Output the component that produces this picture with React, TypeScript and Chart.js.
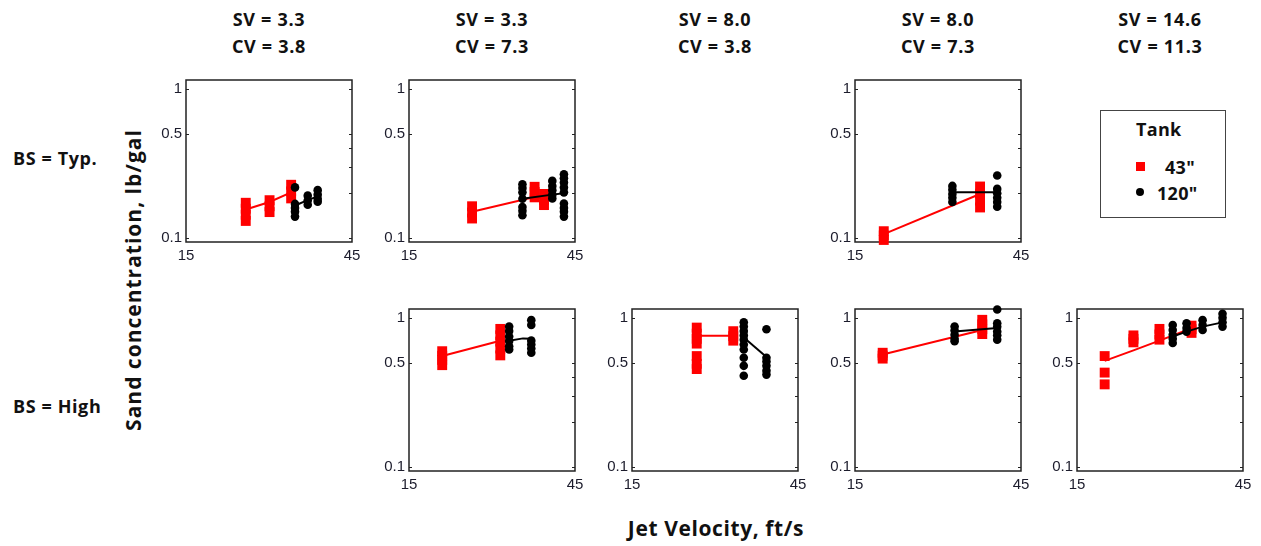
import React, { useEffect, useRef } from "react";
import { Chart, registerables } from "chart.js";

Chart.register(...registerables);

type Pt = [number, number];

// ---------- text / axes ----------
const svTitles = ["SV = 3.3", "SV = 3.3", "SV = 8.0", "SV = 8.0", "SV = 14.6"];
const cvTitles = ["CV = 3.8", "CV = 7.3", "CV = 3.8", "CV = 7.3", "CV = 11.3"];
const rowLabels = ["BS = Typ.", "BS = High"];
const xTickValues = [15, 45];
const yTickValues = [0.1, 0.5, 1];
const yMinorTickValues = [0.2, 0.3, 0.4];
const legendTitle = "Tank";
const legendLabels = ['43"', '120"'];
const yAxisTitle = "Sand concentration, lb/gal";
const xAxisTitle = "Jet Velocity, ft/s";

// ---------- data: BS = Typ. ----------
const typ_sv33_cv38_red: Pt[] = [
  [25.8, 0.13], [25.8, 0.143], [25.8, 0.157], [25.8, 0.172],
  [30.1, 0.149], [30.1, 0.163], [30.1, 0.179],
  [34.0, 0.184], [34.0, 0.205], [34.0, 0.227],
];
const typ_sv33_cv38_redLine: Pt[] = [[25.8, 0.155], [30.1, 0.174], [34.0, 0.202]];
const typ_sv33_cv38_black: Pt[] = [
  [34.7, 0.218], [34.7, 0.169], [34.7, 0.159], [34.7, 0.15], [34.7, 0.139],
  [37.0, 0.192], [37.0, 0.178], [37.0, 0.167],
  [38.8, 0.209], [38.8, 0.195], [38.8, 0.183], [38.8, 0.175],
];
const typ_sv33_cv38_blackLine: Pt[] = [[34.7, 0.165], [37.0, 0.179], [38.8, 0.19]];

const typ_sv33_cv73_red: Pt[] = [
  [26.4, 0.135], [26.4, 0.148], [26.4, 0.163],
  [37.7, 0.187], [37.7, 0.203], [37.7, 0.22],
  [39.4, 0.166], [39.4, 0.18], [39.4, 0.197],
];
const typ_sv33_cv73_redLine: Pt[] = [[26.4, 0.15], [37.7, 0.188], [39.4, 0.185]];
const typ_sv33_cv73_black: Pt[] = [
  [35.5, 0.229], [35.5, 0.216], [35.5, 0.202], [35.5, 0.183], [35.5, 0.161], [35.5, 0.152], [35.5, 0.142],
  [40.9, 0.241], [40.9, 0.223], [40.9, 0.209], [40.9, 0.195], [40.9, 0.184],
  [43.0, 0.267], [43.0, 0.251], [43.0, 0.235], [43.0, 0.218], [43.0, 0.202], [43.0, 0.17], [43.0, 0.159], [43.0, 0.15], [43.0, 0.139],
];
const typ_sv33_cv73_blackLine: Pt[] = [[35.5, 0.183], [40.9, 0.195], [43.0, 0.199]];

const typ_sv80_cv73_red: Pt[] = [
  [20.2, 0.097], [20.2, 0.104], [20.2, 0.111],
  [37.6, 0.16], [37.6, 0.178], [37.6, 0.198], [37.6, 0.221],
];
const typ_sv80_cv73_redLine: Pt[] = [[20.2, 0.106], [37.6, 0.197]];
const typ_sv80_cv73_black: Pt[] = [
  [32.6, 0.223], [32.6, 0.21], [32.6, 0.197], [32.6, 0.186], [32.6, 0.174],
  [40.7, 0.262], [40.7, 0.213], [40.7, 0.199], [40.7, 0.186], [40.7, 0.174], [40.7, 0.162],
];
const typ_sv80_cv73_blackLine: Pt[] = [[32.6, 0.202], [40.7, 0.202]];

// ---------- data: BS = High ----------
const high_sv33_cv73_red: Pt[] = [
  [21.0, 0.48], [21.0, 0.52], [21.0, 0.555], [21.0, 0.595],
  [31.5, 0.558], [31.5, 0.62], [31.5, 0.69], [31.5, 0.76], [31.5, 0.839],
];
const high_sv33_cv73_redLine: Pt[] = [[21.0, 0.552], [31.5, 0.7]];
const high_sv33_cv73_black: Pt[] = [
  [33.1, 0.869], [33.1, 0.811], [33.1, 0.746], [33.1, 0.697], [33.1, 0.643], [33.1, 0.611],
  [37.1, 0.96], [37.1, 0.891], [37.1, 0.7], [37.1, 0.659], [37.1, 0.62], [37.1, 0.581],
];
const high_sv33_cv73_blackLine: Pt[] = [[33.1, 0.7], [35.6, 0.725], [37.1, 0.72]];

const high_sv80_cv38_red: Pt[] = [
  [26.7, 0.669], [26.7, 0.72], [26.7, 0.78], [26.7, 0.856],
  [26.7, 0.452], [26.7, 0.49], [26.7, 0.552],
  [33.3, 0.7], [33.3, 0.75], [33.3, 0.81],
];
const high_sv80_cv38_redLine: Pt[] = [[26.7, 0.755], [33.3, 0.755]];
const high_sv80_cv38_black: Pt[] = [
  [35.2, 0.928], [35.2, 0.869], [35.2, 0.811], [35.2, 0.759], [35.2, 0.711], [35.2, 0.659], [35.2, 0.611], [35.2, 0.538], [35.2, 0.475], [35.2, 0.408],
  [39.3, 0.835], [39.3, 0.538], [39.3, 0.507], [39.3, 0.475], [39.3, 0.441], [39.3, 0.415],
];
const high_sv80_cv38_blackLine: Pt[] = [[35.2, 0.736], [39.3, 0.544]];

const high_sv80_cv73_red: Pt[] = [
  [20.0, 0.531], [20.0, 0.556], [20.0, 0.581],
  [38.0, 0.775], [38.0, 0.835], [38.0, 0.9], [38.0, 0.965],
];
const high_sv80_cv73_redLine: Pt[] = [[20.0, 0.566], [38.0, 0.826]];
const high_sv80_cv73_black: Pt[] = [
  [33.0, 0.869], [33.0, 0.818], [33.0, 0.766], [33.0, 0.721], [33.0, 0.693],
  [40.7, 1.13], [40.7, 0.914], [40.7, 0.866], [40.7, 0.805], [40.7, 0.76], [40.7, 0.711],
];
const high_sv80_cv73_blackLine: Pt[] = [[33.0, 0.805], [40.7, 0.85]];

const high_sv146_cv113_red: Pt[] = [
  [20.0, 0.552], [20.0, 0.428], [20.0, 0.357],
  [25.2, 0.682], [25.2, 0.72], [25.2, 0.759],
  [29.9, 0.711], [29.9, 0.77], [29.9, 0.839],
  [35.7, 0.789], [35.7, 0.835], [35.7, 0.882],
];
const high_sv146_cv113_redLine: Pt[] = [[20.0, 0.513], [25.2, 0.603], [29.9, 0.7], [35.7, 0.847]];
const high_sv146_cv113_black: Pt[] = [
  [32.3, 0.891], [32.3, 0.826], [32.3, 0.766], [32.3, 0.721], [32.3, 0.676],
  [34.8, 0.914], [34.8, 0.85], [34.8, 0.805],
  [37.7, 0.96], [37.7, 0.891], [37.7, 0.826],
  [41.3, 1.06], [41.3, 0.995], [41.3, 0.928], [41.3, 0.869],
];
const high_sv146_cv113_blackLine: Pt[] = [[32.3, 0.746], [34.8, 0.805], [37.7, 0.869], [41.3, 0.928]];

// ---------- layout ----------
const COL_LEFT = [186, 409, 632, 855, 1077];
const ROW_TOP = [77, 306];
const BOX_W = 166;
const BOX_H = 165;
const Y_AXIS_W = 45;
const X_AXIS_H = 28;
const PAD_TOP = 10;
const PAD_RIGHT = 14;
const X_MIN = 15, X_MAX = 45, Y_MIN = 0.094, Y_MAX = 1.14;
const RED = "#ff0000";
const BLACK = "#000000";
const TEXT_FONT = "'Open Sans', 'DejaVu Sans', sans-serif";

interface PanelSpec {
  row: number;
  col: number;
  red: Pt[];
  redLine: Pt[];
  black: Pt[];
  blackLine: Pt[];
}

const panels: PanelSpec[] = [
  { row: 0, col: 0, red: typ_sv33_cv38_red, redLine: typ_sv33_cv38_redLine, black: typ_sv33_cv38_black, blackLine: typ_sv33_cv38_blackLine },
  { row: 0, col: 1, red: typ_sv33_cv73_red, redLine: typ_sv33_cv73_redLine, black: typ_sv33_cv73_black, blackLine: typ_sv33_cv73_blackLine },
  { row: 0, col: 3, red: typ_sv80_cv73_red, redLine: typ_sv80_cv73_redLine, black: typ_sv80_cv73_black, blackLine: typ_sv80_cv73_blackLine },
  { row: 1, col: 1, red: high_sv33_cv73_red, redLine: high_sv33_cv73_redLine, black: high_sv33_cv73_black, blackLine: high_sv33_cv73_blackLine },
  { row: 1, col: 2, red: high_sv80_cv38_red, redLine: high_sv80_cv38_redLine, black: high_sv80_cv38_black, blackLine: high_sv80_cv38_blackLine },
  { row: 1, col: 3, red: high_sv80_cv73_red, redLine: high_sv80_cv73_redLine, black: high_sv80_cv73_black, blackLine: high_sv80_cv73_blackLine },
  { row: 1, col: 4, red: high_sv146_cv113_red, redLine: high_sv146_cv113_redLine, black: high_sv146_cv113_black, blackLine: high_sv146_cv113_blackLine },
];

const toXY = (pts: Pt[]) => pts.map(([x, y]) => ({ x, y }));

const frameTicksPlugin = {
  id: "frameTicks",
  beforeDatasetsDraw(chart: any) {
    const { ctx, chartArea } = chart;
    const ys = chart.scales.y;
    ctx.save();
    ctx.strokeStyle = "#222";
    ctx.lineWidth = 1.5;
    ctx.strokeRect(chartArea.left, chartArea.top, chartArea.right - chartArea.left, chartArea.bottom - chartArea.top);
    ctx.lineWidth = 1;
    const tl = 3;
    for (const v of yTickValues) {
      const py = Math.round(ys.getPixelForValue(v)) + 0.5;
      ctx.beginPath();
      ctx.moveTo(chartArea.left, py);
      ctx.lineTo(chartArea.left + tl, py);
      ctx.moveTo(chartArea.right, py);
      ctx.lineTo(chartArea.right - tl, py);
      ctx.stroke();
    }
    for (const v of yMinorTickValues) {
      const py = Math.round(ys.getPixelForValue(v)) + 0.5;
      ctx.beginPath();
      ctx.moveTo(chartArea.right, py);
      ctx.lineTo(chartArea.right - tl, py);
      ctx.stroke();
    }
    ctx.restore();
  },
};

function Panel({ spec }: { spec: PanelSpec }) {
  const ref = useRef<HTMLCanvasElement>(null);
  const W = Y_AXIS_W + BOX_W + PAD_RIGHT;
  const H = PAD_TOP + BOX_H + X_AXIS_H;
  const left = COL_LEFT[spec.col] - Y_AXIS_W;
  const top = ROW_TOP[spec.row] - PAD_TOP;

  useEffect(() => {
    const tickFont = { family: "'Liberation Sans', Arial, sans-serif", size: 15 };
    const chart = new Chart(ref.current as HTMLCanvasElement, {
      type: "scatter",
      data: {
        datasets: [
          { data: toXY(spec.black), pointStyle: "circle", pointRadius: 4.3, backgroundColor: BLACK, borderColor: BLACK, borderWidth: 0, order: 1, clip: false } as any,
          { data: toXY(spec.blackLine), showLine: true, pointRadius: 0, borderColor: BLACK, borderWidth: 2, order: 2, clip: false } as any,
          { data: toXY(spec.red), pointStyle: "rect", pointRadius: 7, backgroundColor: RED, borderColor: RED, borderWidth: 0, order: 3, clip: false } as any,
          { data: toXY(spec.redLine), showLine: true, pointRadius: 0, borderColor: RED, borderWidth: 2, order: 4, clip: false } as any,
        ],
      },
      options: {
        animation: false,
        responsive: false,
        maintainAspectRatio: false,
        devicePixelRatio: 1,
        layout: { padding: { top: PAD_TOP, right: PAD_RIGHT, left: 0, bottom: 0 } },
        plugins: { legend: { display: false }, tooltip: { enabled: false } },
        events: [],
        scales: {
          x: {
            type: "linear",
            min: X_MIN,
            max: X_MAX,
            grid: { display: false, drawTicks: false },
            border: { display: false },
            ticks: { font: tickFont, color: "#1c1c2c", padding: 5, autoSkip: false, maxRotation: 0, callback: (v: any) => String(v) },
            afterBuildTicks: (s: any) => { s.ticks = xTickValues.map((v) => ({ value: v })); },
            afterFit: (s: any) => { s.height = X_AXIS_H; },
          },
          y: {
            type: "logarithmic",
            min: Y_MIN,
            max: Y_MAX,
            grid: { display: false, drawTicks: false },
            border: { display: false },
            ticks: { font: tickFont, color: "#1c1c2c", padding: 4, autoSkip: false, callback: (v: any) => String(v) },
            afterBuildTicks: (s: any) => { s.ticks = yTickValues.map((v) => ({ value: v })); },
            afterFit: (s: any) => { s.width = Y_AXIS_W; },
          },
        },
      } as any,
      plugins: [frameTicksPlugin],
    });
    return () => chart.destroy();
  }, []);

  return (
    <div style={{ position: "absolute", left, top, width: W, height: H }}>
      <canvas ref={ref} width={W} height={H} style={{ width: W, height: H, display: "block" }} />
    </div>
  );
}

const boldText = (size: number, spacing: number): React.CSSProperties => ({
  position: "absolute",
  fontFamily: TEXT_FONT,
  fontWeight: 700,
  fontSize: size,
  letterSpacing: spacing,
  color: "#111",
  whiteSpace: "nowrap",
  lineHeight: "20px",
});

export default function App() {
  return (
    <div style={{ position: "fixed", left: 0, top: 0, width: 1261, height: 546, background: "#fff", overflow: "hidden" }}>
      {svTitles.map((t, i) => (
        <div key={"sv" + i} style={{ ...boldText(18, 0.7), left: COL_LEFT[i] + BOX_W / 2 - 80, width: 160, textAlign: "center", top: 9 }}>{t}</div>
      ))}
      {cvTitles.map((t, i) => (
        <div key={"cv" + i} style={{ ...boldText(18, 0.7), left: COL_LEFT[i] + BOX_W / 2 - 80, width: 160, textAlign: "center", top: 36 }}>{t}</div>
      ))}
      <div style={{ ...boldText(18, 0.6), left: 13, top: 148 }}>{rowLabels[0]}</div>
      <div style={{ ...boldText(18, 0.6), left: 13, top: 396 }}>{rowLabels[1]}</div>
      <div style={{ ...boldText(21, 1), left: 133 - 200, top: 280 - 10, width: 400, textAlign: "center", transform: "rotate(-90deg)", transformOrigin: "200px 10px" }}>{yAxisTitle}</div>
      <div style={{ ...boldText(21, 0.6), left: 716 - 150, width: 300, textAlign: "center", top: 518 }}>{xAxisTitle}</div>

      {panels.map((p, i) => (
        <Panel key={i} spec={p} />
      ))}

      <div style={{ position: "absolute", left: 1100, top: 110, width: 126, height: 108, border: "1.5px solid #444", boxSizing: "border-box" }}>
        <div style={{ ...boldText(18, 0.3), left: 35, top: 8 }}>{legendTitle}</div>
        <div style={{ position: "absolute", left: 35, top: 51, width: 9, height: 9, background: RED }} />
        <div style={{ ...boldText(18, 0.3), left: 64, top: 46 }}>{legendLabels[0]}</div>
        <div style={{ position: "absolute", left: 35, top: 77, width: 8, height: 8, borderRadius: 4, background: BLACK }} />
        <div style={{ ...boldText(18, 0.3), left: 56, top: 72 }}>{legendLabels[1]}</div>
      </div>
    </div>
  );
}
